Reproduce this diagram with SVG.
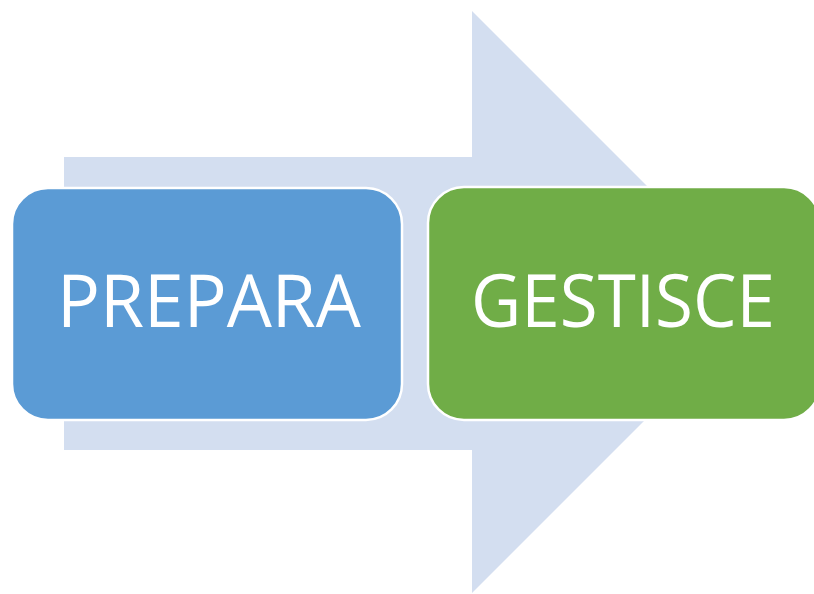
<svg xmlns="http://www.w3.org/2000/svg" width="814" height="594" viewBox="0 0 814 594">
<style>
.box{stroke:#FFFFFF;stroke-width:2.5}
.lbl{font-family:"Open Sans","Liberation Sans",sans-serif;font-size:73px;fill:#FFFFFF;text-anchor:middle}
</style>
<rect width="814" height="594" fill="#FFFFFF"/>
<g id="connectors">
<polygon id="arrow" points="64,157 472,157 472,11 763,302 472,593 472,450 64,450" fill="#D3DEF0"/>
</g>
<g id="node-prepara">
<rect class="box" x="12" y="188" width="390" height="232" rx="36" ry="36" fill="#5B9BD5"/>
<text class="lbl" x="209" y="327" textLength="304" lengthAdjust="spacingAndGlyphs">PREPARA</text>
</g>
<g id="node-gestisce">
<rect class="box" x="428" y="187" width="392" height="233" rx="36" ry="36" fill="#70AD47"/>
<text class="lbl" x="623" y="327" textLength="304" lengthAdjust="spacingAndGlyphs">GESTISCE</text>
</g>
</svg>
